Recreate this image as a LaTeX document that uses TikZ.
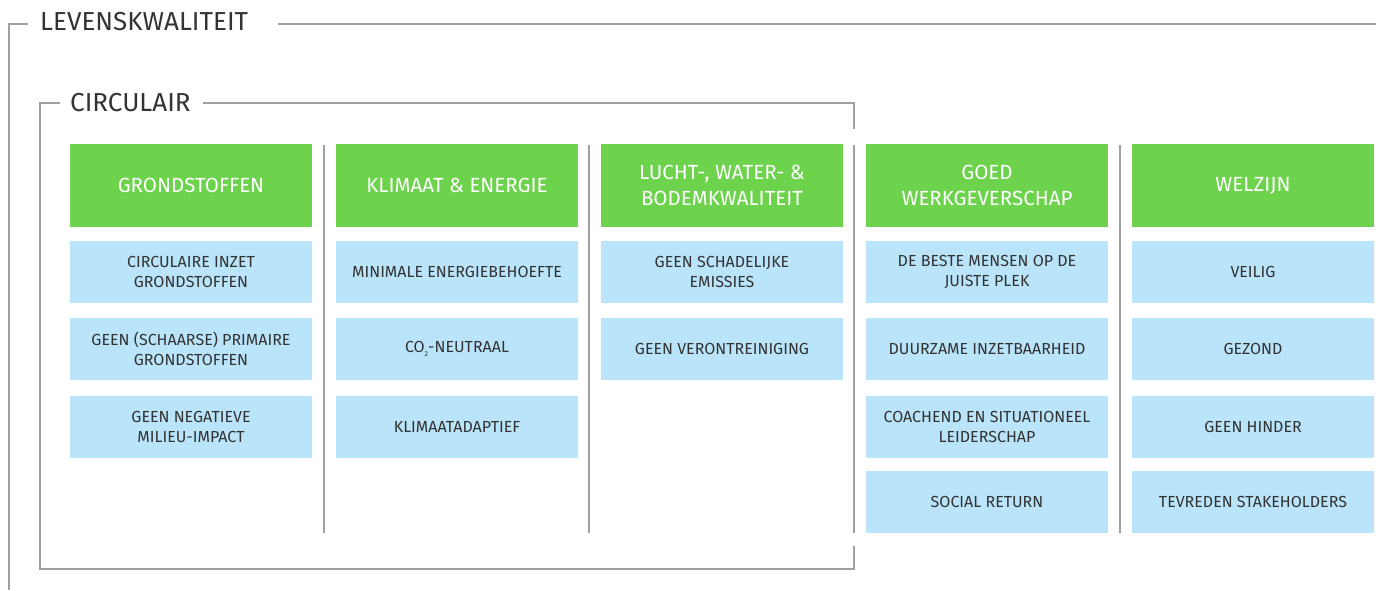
\documentclass[tikz,border=0pt]{standalone}
\usepackage{fontspec}
\setmainfont{Fira Sans}
\usepackage{tikz}
\usetikzlibrary{positioning}
\definecolor{kopgroen}{HTML}{6DD34D}
\definecolor{vakblauw}{HTML}{B9E4F9}
\definecolor{lijngrijs}{HTML}{A0A0A0}
\definecolor{tekstgrijs}{HTML}{333333}

\begin{document}
\begin{tikzpicture}[
  x=1pt, y=-1pt,
  kop/.style={fill=kopgroen, text=white, minimum width=242pt, minimum height=83pt,
    inner sep=0pt, align=center, font=\fontsize{20.5}{26}\selectfont},
  vak/.style={fill=vakblauw, text=tekstgrijs, minimum width=242pt, minimum height=62pt,
    inner sep=0pt, align=center, font=\fontsize{16}{20}\selectfont},
  kader/.style={draw=lijngrijs, line width=1.4pt},
  titel/.style={anchor=west, text=tekstgrijs, inner sep=0pt, font=\fontsize{26}{30}\selectfont}
]
  \useasboundingbox (0,0) rectangle (1376,590);

  % Outer frame: levenskwaliteit
  \node[titel] (levens) at (40,22) {LEVENSKWALITEIT};
  \draw[kader] (9,590) -- (9,24) -- (28,24);
  \draw[kader] (278,24) -- (1376,24);

  % Inner frame: circulair
  \node[titel] (circ) at (70,103) {CIRCULAIR};
  \draw[kader] (60,103) -- (40,103) -- (40,569) -- (854,569) -- (854,546);
  \draw[kader] (203,103) -- (854,103) -- (854,129);

  % Column separators
  \draw[kader] (324,145) -- (324,533);
  \draw[kader] (589,145) -- (589,533);
  \draw[kader] (854,145) -- (854,533);
  \draw[kader] (1120,145) -- (1120,533);

  % Headers
  \node[kop] (grond) at (191,185.5) {GRONDSTOFFEN};
  \node[kop] (klimaat) at (457,185.5) {KLIMAAT \& ENERGIE};
  \node[kop] (lucht) at (722,185.5) {LUCHT-, WATER- \&\\BODEMKWALITEIT};
  \node[kop] (werk) at (987,185.5) {GOED\\WERKGEVERSCHAP};
  \node[kop] (welzijn) at (1253,185.5) {WELZIJN};

  % Grondstoffen
  \node[vak] (grondA) at (191,272) {CIRCULAIRE INZET\\GRONDSTOFFEN};
  \node[vak] (grondB) at (191,349) {GEEN (SCHAARSE) PRIMAIRE\\GRONDSTOFFEN};
  \node[vak] (grondC) at (191,427) {GEEN NEGATIEVE\\MILIEU-IMPACT};

  % Klimaat & energie
  \node[vak] (klimaatA) at (457,272) {MINIMALE ENERGIEBEHOEFTE};
  \node[vak] (klimaatB) at (457,349) {CO\raisebox{-0.45ex}{\scriptsize 2}-NEUTRAAL};
  \node[vak] (klimaatC) at (457,427) {KLIMAATADAPTIEF};

  % Lucht, water, bodem
  \node[vak] (luchtA) at (722,272) {GEEN SCHADELIJKE\\EMISSIES};
  \node[vak] (luchtB) at (722,349) {GEEN VERONTREINIGING};

  % Goed werkgeverschap
  \node[vak] (werkA) at (987,272) {DE BESTE MENSEN OP DE\\JUISTE PLEK};
  \node[vak] (werkB) at (987,349) {DUURZAME INZETBAARHEID};
  \node[vak] (werkC) at (987,427) {COACHEND EN SITUATIONEEL\\LEIDERSCHAP};
  \node[vak] (werkD) at (987,502) {SOCIAL RETURN};

  % Welzijn
  \node[vak] (welzijnA) at (1253,272) {VEILIG};
  \node[vak] (welzijnB) at (1253,349) {GEZOND};
  \node[vak] (welzijnC) at (1253,427) {GEEN HINDER};
  \node[vak] (welzijnD) at (1253,502) {TEVREDEN STAKEHOLDERS};
\end{tikzpicture}
\end{document}
